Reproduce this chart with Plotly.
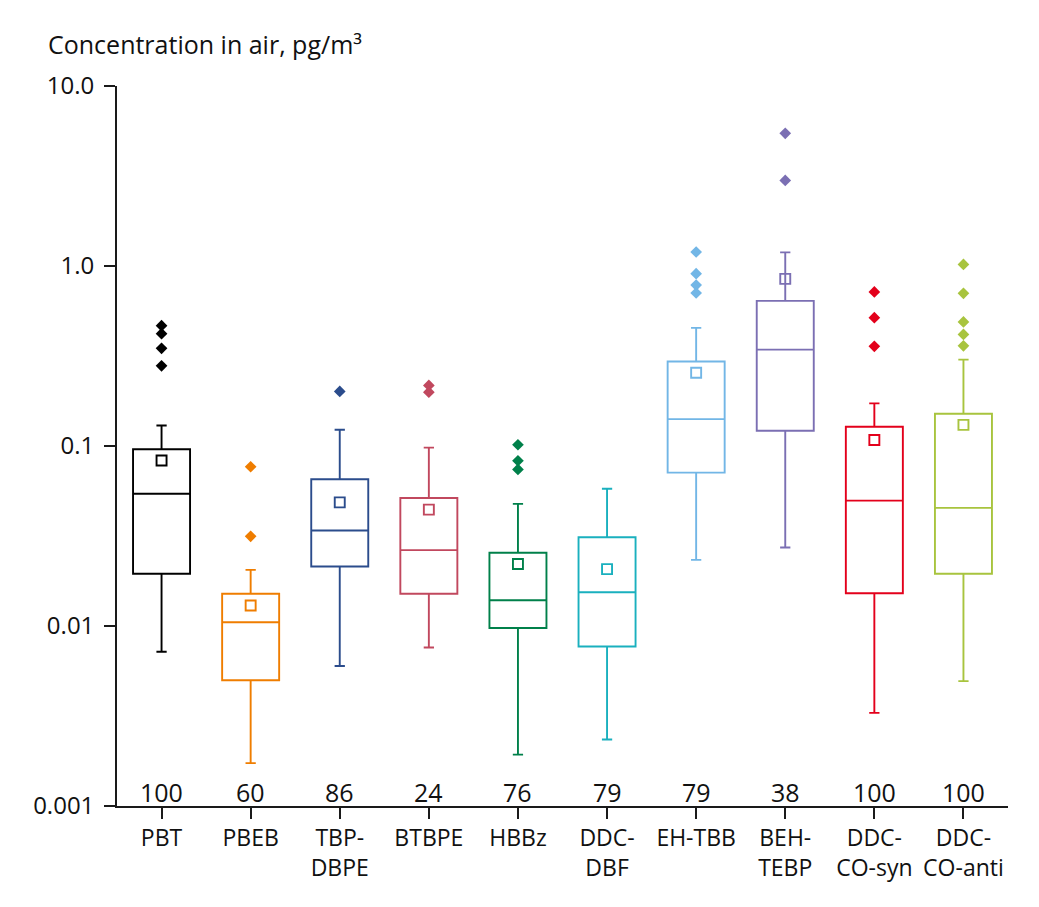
import plotly.graph_objects as go

categories = ["PBT", "PBEB", "TBP-DBPE", "BTBPE", "HBBz", "DDC-DBF",
              "EH-TBB", "BEH-TEBP", "DDC-CO-syn", "DDC-CO-anti"]
tick_labels = ["PBT", "PBEB", "TBP-<br>DBPE", "BTBPE", "HBBz", "DDC-<br>DBF",
               "EH-TBB", "BEH-<br>TEBP", "DDC-<br>CO-syn", "DDC-<br>CO-anti"]
counts = [100, 60, 86, 24, 76, 79, 79, 38, 100, 100]

lower_whisker = [0.0072, 0.00173, 0.0060, 0.0076, 0.00193, 0.00234, 0.0233, 0.0273, 0.00329, 0.00494]
q1 = [0.0195, 0.0050, 0.0214, 0.0151, 0.00975, 0.0077, 0.0711, 0.1216, 0.0152, 0.0195]
median = [0.0543, 0.0105, 0.0339, 0.0264, 0.0139, 0.0154, 0.141, 0.343, 0.0497, 0.0453]
q3 = [0.096, 0.0151, 0.0653, 0.0514, 0.0255, 0.0311, 0.295, 0.640, 0.128, 0.151]
upper_whisker = [0.130, 0.0205, 0.123, 0.098, 0.0477, 0.0579, 0.453, 1.19, 0.1726, 0.302]
means = [0.083, 0.0130, 0.0486, 0.0443, 0.0221, 0.0207, 0.255, 0.848, 0.108, 0.131]
outliers = [
    [0.466, 0.421, 0.349, 0.279],
    [0.0767, 0.0315],
    [0.201],
    [0.217, 0.199],
    [0.1016, 0.0828, 0.0741],
    [],
    [1.196, 0.906, 0.783, 0.708],
    [5.46, 2.99],
    [0.718, 0.516, 0.358],
    [1.02, 0.705, 0.489, 0.417, 0.360],
]
colors = ["#000000", "#EF7D00", "#2B4C8C", "#C1485E", "#00804A", "#1AB0BE",
          "#72B6E6", "#7B6FB3", "#E3001B", "#A8C43E"]

FONT = "Open Sans, Liberation Sans, sans-serif"

fig = go.Figure()

for i, cat in enumerate(categories):
    fig.add_trace(go.Box(
        x=[cat], q1=[q1[i]], median=[median[i]], q3=[q3[i]],
        lowerfence=[lower_whisker[i]], upperfence=[upper_whisker[i]],
        width=0.64, whiskerwidth=0.18, boxpoints=False,
        line=dict(color=colors[i], width=1.9),
        fillcolor="rgba(0,0,0,0)", showlegend=False,
    ))

# means (open squares)
fig.add_trace(go.Scatter(
    x=categories, y=means, mode="markers", showlegend=False,
    marker=dict(symbol="square-open", size=10, color=colors,
                line=dict(width=1.9, color=colors)),
))

# outliers (diamonds)
ox, oy, oc = [], [], []
for i, cat in enumerate(categories):
    for v in outliers[i]:
        ox.append(cat)
        oy.append(v)
        oc.append(colors[i])
fig.add_trace(go.Scatter(
    x=ox, y=oy, mode="markers", showlegend=False,
    marker=dict(symbol="diamond", size=9, color=oc, line=dict(width=0)),
))

# counts along the bottom
for i, cat in enumerate(categories):
    fig.add_annotation(
        x=cat, xref="x", y=(806 - 792) / 720, yref="paper",
        text=str(counts[i]), showarrow=False, yanchor="middle",
        font=dict(family=FONT, size=25, color="#111111"),
    )

# y-axis title at top-left
fig.add_annotation(
    x=(46 - 117) / 891, xref="paper", y=1 + (86 - 44) / 720, yref="paper",
    text="Concentration in air, pg/m³", showarrow=False,
    xanchor="left", yanchor="middle",
    font=dict(family=FONT, size=25, color="#111111"),
)

fig.update_layout(
    width=1039, height=907,
    margin=dict(l=109, r=39, t=78, b=109),
    paper_bgcolor="white", plot_bgcolor="white",
    font=dict(family=FONT, size=23, color="#111111"),
    boxmode="overlay",
)
fig.update_xaxes(
    type="category", range=[-0.5, 9.5],
    tickvals=categories, ticktext=tick_labels,
    showline=True, linecolor="#1a1a1a", linewidth=1.7,
    ticks="outside", ticklen=11, tickwidth=1.7, tickcolor="#1a1a1a",
    showgrid=False, zeroline=False,
    tickfont=dict(family=FONT, size=23, color="#111111"),
)
fig.update_yaxes(
    type="log", range=[-3, 1],
    tickvals=[0.001, 0.01, 0.1, 1, 10],
    ticktext=["0.001", "0.01", "0.1", "1.0", "10.0"],
    showline=True, linecolor="#1a1a1a", linewidth=1.7,
    ticks="outside", ticklen=11, tickwidth=1.7, tickcolor="#1a1a1a",
    showgrid=False, zeroline=False, ticklabelstandoff=5,
    tickfont=dict(family=FONT, size=24, color="#111111"),
)

fig.write_html("out.html")
